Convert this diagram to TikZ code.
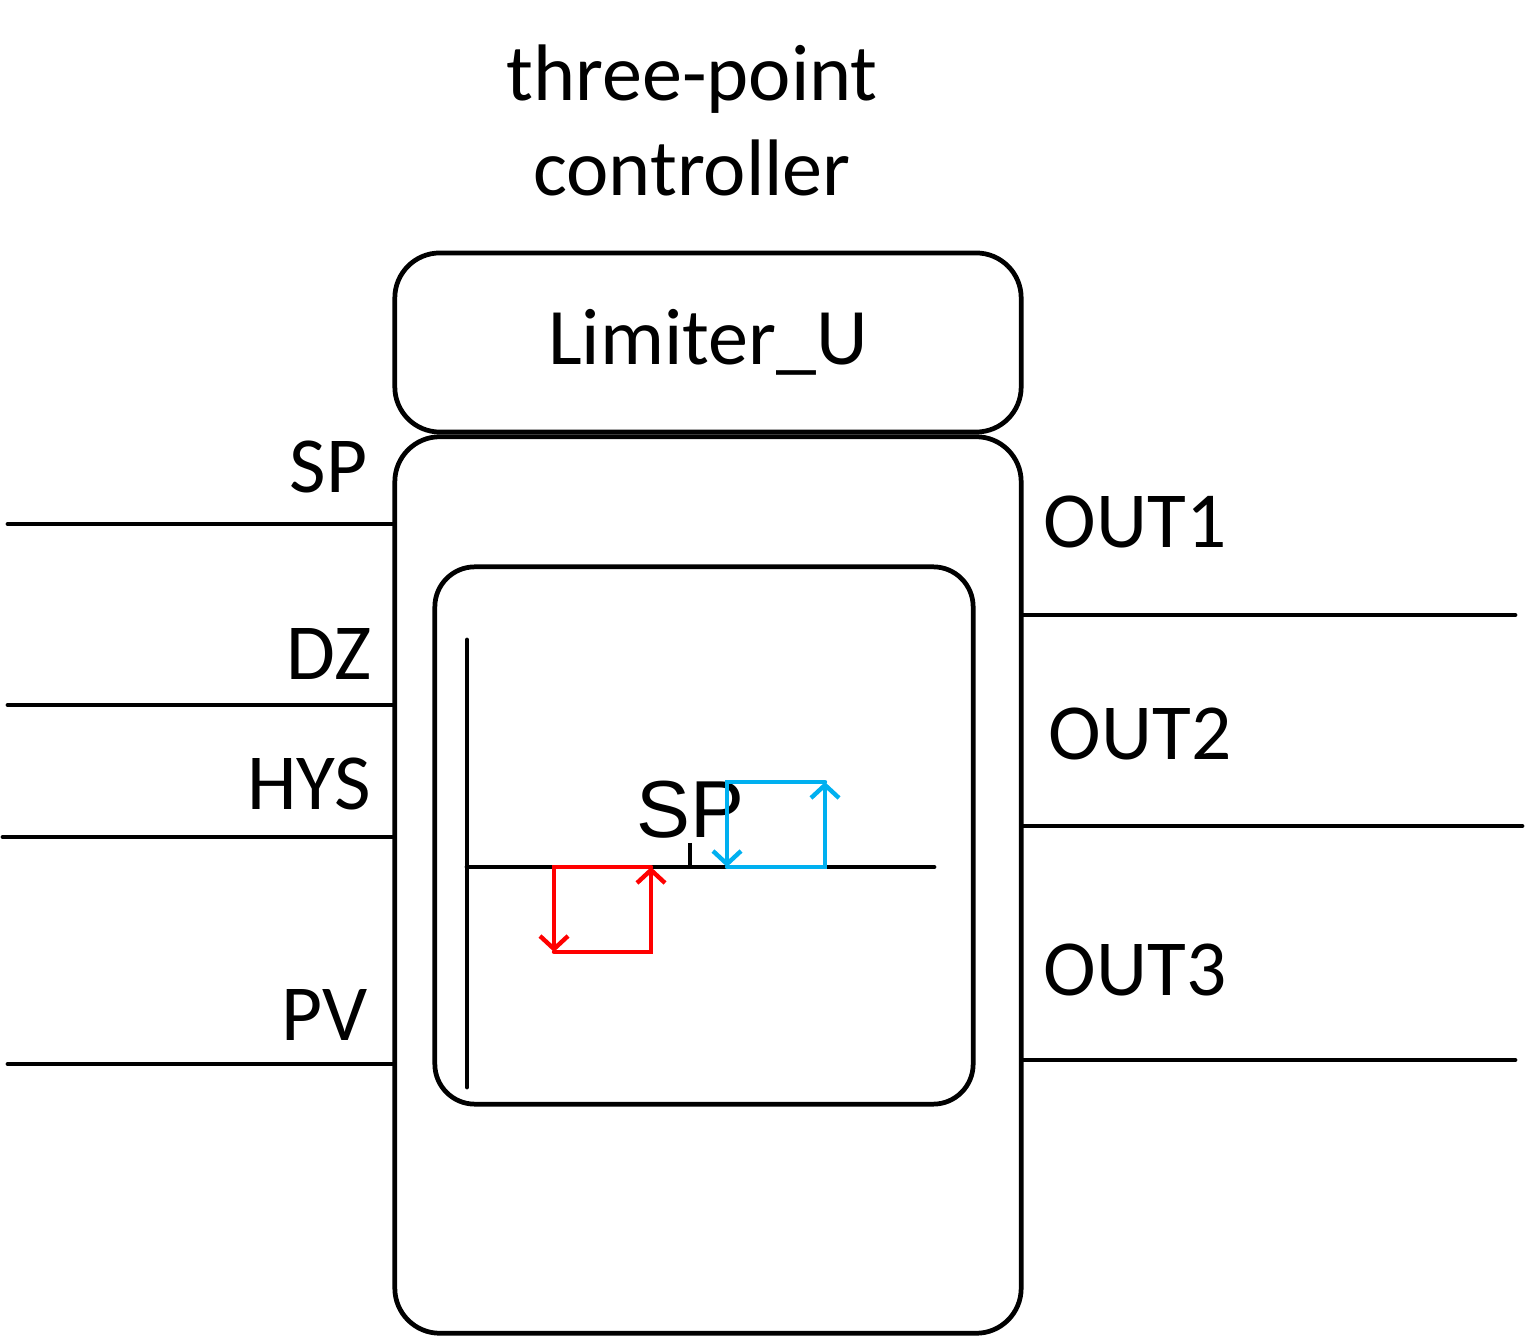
\documentclass[tikz,border=0pt]{standalone}
\usepackage{fontspec}
\setmainfont{Carlito}
\newfontfamily\arialfont{Liberation Sans}
\usepackage{tikz}
\usetikzlibrary{arrows.meta}
\definecolor{lred}{RGB}{255,0,0}
\definecolor{lblu}{RGB}{0,176,240}
\tikzset{
  blk/.style={draw,line width=1.35pt,rounded corners=0.45cm,inner sep=0pt},
  wire/.style={line width=1.35pt,line cap=round},
  lbl/.style={font=\fontsize{22.6}{22.6}\selectfont,inner sep=0pt},
  hysloop/.style={line width=1.25pt,line cap=round,-{Straight Barb[length=1.3mm,width=2.8mm]}}
}
\begin{document}
\begin{tikzpicture}[x=0.01cm,y=-0.01cm]
\useasboundingbox (0,0) rectangle (1527,1337);
\node[align=center,inner sep=0pt,font=\fontsize{22.8}{27}\selectfont] (title) at (692,120) {three-point\\controller};
\node[blk,minimum width=6.26cm,minimum height=1.79cm,font=\fontsize{22.8}{22.8}\selectfont] (lim) at (708,342.5) {Limiter\_U};
\node[blk,minimum width=6.26cm,minimum height=8.96cm] (body) at (708,885) {};
\node[blk,rounded corners=0.4cm,minimum width=5.38cm,minimum height=5.37cm] (inner) at (704,835.5) {};
\foreach \n/\t/\y/\b/\r/\s in {sp/SP/524/493/368/8, dz/DZ/705/680/372/8, hys/HYS/837/810/372/3, pv/PV/1064/1040/368/8} {
  \coordinate (in\n) at (\s,\y);
  \draw[wire] (in\n) -- (in\n -| body.west);
  \node[lbl,anchor=base east] (l\n) at (\r,\b) {\t};
}
\foreach \n/\y/\e/\b/\l in {1/615/1515/548/1043, 2/826/1522/760/1048, 3/1060/1515/995/1043} {
  \coordinate (out\n) at (\e,\y);
  \draw[wire] (out\n -| body.east) -- (out\n);
  \node[lbl,anchor=base west] (lout\n) at (\l,\b) {OUT\n};
}
\coordinate (ytop) at (467,640);
\coordinate (ybot) at (467,1087);
\coordinate (xend) at (934,867);
\draw[wire] (ytop) -- (ybot);
\draw[wire] (ybot |- xend) -- (xend);
\coordinate (tick) at (690,843);
\draw[line width=0.9pt] (tick) -- (tick |- xend);
\node[inner sep=0pt,font=\arialfont\fontsize{23}{23}\selectfont] (spmark) at (690,810) {SP};
\draw[hysloop,lred] (651,867) -- (554,867) -- (554,952);
\draw[hysloop,lred] (554,952) -- (651,952) -- (651,867);
\draw[hysloop,lblu] (825,782) -- (727,782) -- (727,867);
\draw[hysloop,lblu] (727,867) -- (825,867) -- (825,782);
\end{tikzpicture}
\end{document}
